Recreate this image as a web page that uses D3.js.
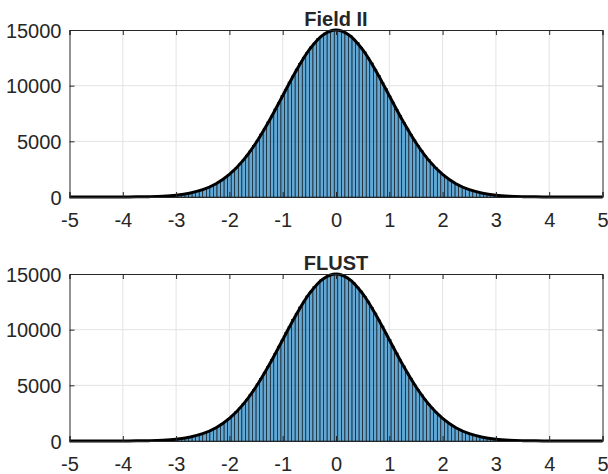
<!DOCTYPE html>
<html>
<head>
<meta charset="utf-8">
<style>
  body { margin: 0; background: #fff; }
  svg text { font-family: "Liberation Sans", Arial, Helvetica, sans-serif; fill: #262626; }
</style>
</head>
<body>
<div class="container"></div>
<script src="https://cdn.jsdelivr.net/npm/d3@7"></script>
<script>
// bin centres run from -50/15 to 50/15 (bin width 1/15)
var binWidth = 1 / 15
var binIndex = d3.range(-50, 51)

// counts per bin
var fieldCounts = [55, 74, 88, 113, 134, 170, 200, 249, 295, 361, 426, 515, 602, 720, 838, 991, 1143, 1340, 1535, 1781,
  2021, 2325, 2616, 2981, 3325, 3755, 4158, 4645, 5102, 5648, 6150, 6742, 7284, 7910, 8470, 9120, 9680, 10330, 10870, 11490,
  11985, 12555, 12990, 13480, 13820, 14215, 14450, 14730, 14840, 14990,
  14975,
  14940, 14890, 14680, 14500, 14160, 13875, 13430, 13040, 12500, 12040, 11440, 10920, 10280, 9730, 9075, 8515, 7870, 7325, 6705,
  6185, 5612, 5135, 4615, 4186, 3728, 3352, 2958, 2638, 2303, 2040, 1765, 1550, 1327, 1156, 980, 848, 711, 611, 507,
  432, 355, 301, 243, 206, 165, 138, 109, 91, 71, 59]

var flustCounts = [60, 71, 92, 109, 138, 164, 206, 243, 301, 355, 433, 508, 610, 712, 846, 982, 1155, 1328, 1548, 1766,
  2038, 2305, 2636, 2960, 3350, 3730, 4184, 4618, 5132, 5615, 6182, 6710, 7320, 7875, 8510, 9080, 9725, 10285, 10915, 11445,
  12035, 12505, 13035, 13435, 13870, 14165, 14495, 14685, 14885, 14945,
  14980,
  14985, 14845, 14725, 14455, 14210, 13825, 13475, 12995, 12550, 11990, 11485, 10875, 10325, 9685, 9115, 8475, 7905, 7290, 6738,
  6155, 5645, 5105, 4642, 4160, 3752, 3328, 2978, 2618, 2322, 2022, 1779, 1536, 1338, 1145, 990, 838, 719, 603, 514,
  427, 360, 296, 248, 201, 169, 135, 112, 89, 73, 57]

// fitted normal curve, sampled every 0.25
var fitX = [-5, -4.75, -4.5, -4.25, -4, -3.75, -3.5, -3.25, -3, -2.75, -2.5, -2.25, -2, -1.75, -1.5, -1.25, -1, -0.75, -0.5, -0.25,
  0, 0.25, 0.5, 0.75, 1, 1.25, 1.5, 1.75, 2, 2.25, 2.5, 2.75, 3, 3.25, 3.5, 3.75, 4, 4.25, 4.5, 4.75, 5]
var fitY = [0.06, 0.2, 0.6, 1.8, 5, 13, 33, 76, 167, 342, 659, 1193, 2030, 3244, 4870, 6867, 9098, 11323, 13237, 14538,
  15000, 14538, 13237, 11323, 9098, 6867, 4870, 3244, 2030, 1193, 659, 342, 167, 76, 33, 13, 5, 1.8, 0.6, 0.2, 0.06]

var xTicks = [-5, -4, -3, -2, -1, 0, 1, 2, 3, 4, 5]
var yTicks = [0, 5000, 10000, 15000]

var panels = [
  { title: "Field II", counts: fieldCounts, top: 30 },
  { title: "FLUST", counts: flustCounts, top: 274 }
]

var wd = 608, ht = 474
var left = 69.5, right = 602.5, plotH = 167

var svg = d3.select(".container").append("svg")
  .attr("width", wd)
  .attr("height", ht)

var x = d3.scaleLinear().domain([-5, 5]).range([left, right])

var fitLine = d3.line().curve(d3.curveCatmullRom)
var plain = function (d) { return String(d) }

panels.forEach(function (p) {
  var y = d3.scaleLinear().domain([0, 15000]).range([p.top + plotH, p.top])
  var g = svg.append("g")

  // grid
  g.selectAll(".gx").data(xTicks.slice(1, -1)).enter().append("line")
    .attr("x1", function (d) { return x(d) }).attr("x2", function (d) { return x(d) })
    .attr("y1", p.top).attr("y2", p.top + plotH)
    .attr("stroke", "#e3e3e3").attr("stroke-width", 1)
  g.selectAll(".gy").data(yTicks.slice(1, -1)).enter().append("line")
    .attr("x1", left).attr("x2", right)
    .attr("y1", function (d) { return y(d) }).attr("y2", function (d) { return y(d) })
    .attr("stroke", "#e3e3e3").attr("stroke-width", 1)

  // bars
  g.selectAll(".bar").data(p.counts).enter().append("rect")
    .attr("x", function (d, i) { return x(binIndex[i] * binWidth - binWidth / 2) })
    .attr("width", x(binWidth) - x(0))
    .attr("y", function (d) { return y(d) })
    .attr("height", function (d) { return y(0) - y(d) })
    .attr("fill", "#0072BD").attr("fill-opacity", 0.62)
    .attr("stroke", "#1a1a1a").attr("stroke-width", 0.6)

  // fit curve
  g.append("path")
    .attr("d", fitLine(fitX.map(function (v, i) { return [x(v), y(fitY[i])] })))
    .attr("fill", "none").attr("stroke", "#000").attr("stroke-width", 3)

  // axes (box style, ticks inward)
  var axB = d3.axisBottom(x).tickValues(xTicks).tickSize(-5).tickPadding(16).tickFormat(plain)
  var axT = d3.axisTop(x).tickValues(xTicks).tickSize(-5).tickFormat("")
  var axL = d3.axisLeft(y).tickValues(yTicks).tickSize(-5).tickPadding(8).tickFormat(plain)
  var axR = d3.axisRight(y).tickValues(yTicks).tickSize(-5).tickFormat("")

  var gb = g.append("g").attr("transform", "translate(0," + (p.top + plotH) + ")").call(axB)
  var gt = g.append("g").attr("transform", "translate(0," + p.top + ")").call(axT)
  var gl = g.append("g").attr("transform", "translate(" + left + ",0)").call(axL)
  var gr = g.append("g").attr("transform", "translate(" + right + ",0)").call(axR)

  ;[gb, gt, gl, gr].forEach(function (a) {
    a.select(".domain").attr("stroke", "#262626").attr("stroke-width", 1)
    a.selectAll(".tick line").attr("stroke", "#262626")
    a.selectAll("text").style("font-size", "20px").attr("fill", "#262626")
  })
  gb.selectAll("text").attr("dy", "0.71em")
  gl.selectAll("text").attr("dy", "0.35em")

  svg.append("text")
    .attr("x", (left + right) / 2)
    .attr("y", p.top - 4)
    .attr("text-anchor", "middle")
    .style("font-size", "20px").style("font-weight", "bold")
    .attr("fill", "#000")
    .text(p.title)
})
</script>
</body>
</html>
